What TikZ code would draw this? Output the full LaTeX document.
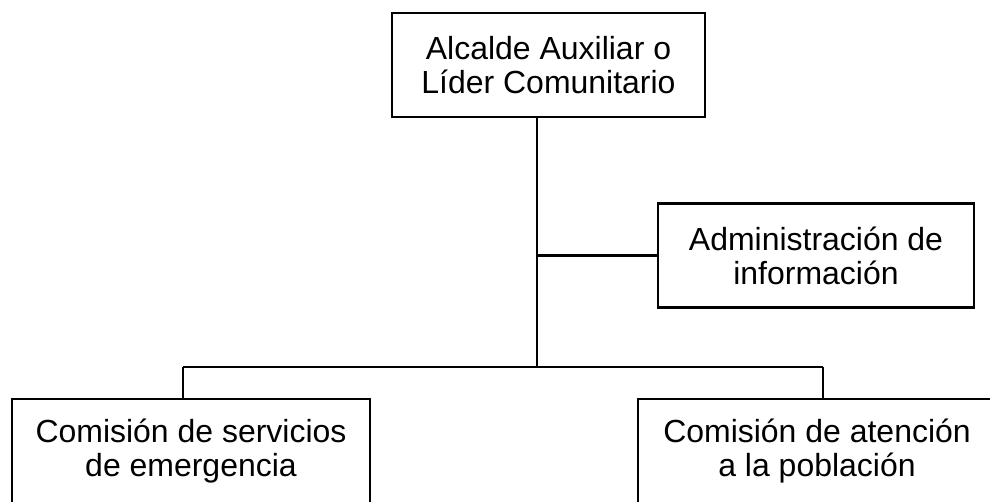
\documentclass[tikz,border=0pt]{standalone}
\usepackage{fontspec}
\setmainfont{Liberation Sans}
\begin{document}
\begin{tikzpicture}[x=0.02cm, y=-0.02cm, font=\fontsize{18.2}{19.4}\selectfont, line width=1.5pt, every node/.style={draw, fill=white, align=center, inner sep=0pt, outer sep=0pt, minimum height=2.08cm}, line join=miter]
    \useasboundingbox (0,0) rectangle (990,502);
    \clip (0,0) rectangle (990,502);
        \node[minimum width=6.26cm] (alcalde) at (548.5, 65) {Alcalde Auxiliar o\\Líder Comunitario};
        \node[minimum width=6.32cm] (admin) at (816, 255.5) {Administración de\\información};
        \node[minimum width=7.16cm] (emergencia) at (191, 451) {Comisión de servicios\\de emergencia};
        \node[minimum width=7.16cm] (poblacion) at (817, 451) {Comisión de atención\\a la población};
        \coordinate (tronco) at (537, 367);
        \coordinate (izq) at (183, 367);
        \coordinate (der) at (823, 367);
        \draw (alcalde.south -| tronco) -- (tronco);
        \draw (admin.west) -- (admin.west -| tronco);
        \draw (izq) -- (der);
        \draw (izq) -- (izq |- emergencia.north);
        \draw (der) -- (der |- poblacion.north);
    \end{tikzpicture}
\end{document}
